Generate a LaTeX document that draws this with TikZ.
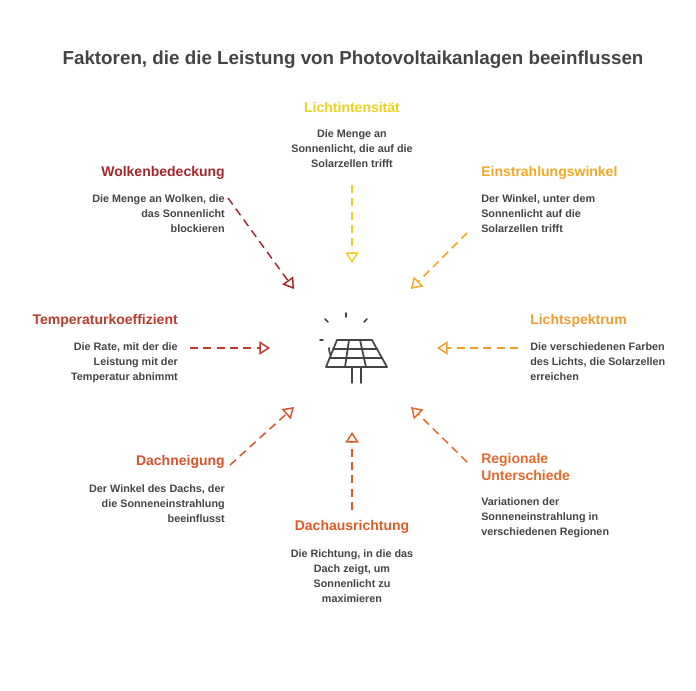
\documentclass[tikz,border=0pt]{standalone}
\usepackage{fontspec}
\setmainfont{Liberation Sans}
\usetikzlibrary{arrows.meta,positioning}
\definecolor{txtgray}{HTML}{444444}
\definecolor{cYellow}{HTML}{F2CF1D}
\definecolor{cAmber}{HTML}{F5A623}
\definecolor{cOrange}{HTML}{F39B2E}
\definecolor{cRegio}{HTML}{E8672A}
\definecolor{cRoof}{HTML}{E05A22}
\definecolor{cTilt}{HTML}{D9502A}
\definecolor{cTemp}{HTML}{C0392B}
\definecolor{cCloud}{HTML}{A3262A}
\tikzset{
  head/.style={font=\bfseries\fontsize{10.5}{12}\selectfont, inner sep=0pt},
  desc/.style={font=\bfseries\fontsize{8.1}{11.25}\selectfont, text=txtgray, inner sep=0pt},
  pointer/.style={dash pattern=on 6pt off 4pt, line width=1.1pt, -{Triangle[open,length=8pt,width=10pt]}},
  icon/.style={txtgray, line width=1.3pt, line cap=round, line join=round}
}
\begin{document}
\begin{tikzpicture}[x=0.75pt,y=-0.75pt]
\useasboundingbox (0,0) rectangle (696,690);

% Title
\node[font=\bfseries\fontsize{14.1}{16}\selectfont, text=txtgray] (title) at (353,60) {Faktoren, die die Leistung von Photovoltaikanlagen beeinflussen};

% Center icon
\draw[icon] (329,348) arc (180:330:12pt);
\draw[icon, fill=white] (337,340) -- (372,340) -- (387,367) -- (326,367) -- cycle;
\draw[icon] (333,349) -- (377,349) (330,358) -- (382,358);
\draw[icon] (349,340) -- (345,367) (360,340) -- (366,367);
\draw[icon] (352,367) -- (352,383) (361,367) -- (361,383);
\draw[icon] (346,313) -- (346,317) (325,319) -- (328,322) (367,319) -- (364,322) (320,340) -- (323,340);

% Arrows
\coordinate (a1) at (352,185); \coordinate (b1) at (352,263);
\coordinate (a2) at (228,198); \coordinate (b2) at (294,289);
\coordinate (a3) at (467,233); \coordinate (b3) at (411,289);
\coordinate (a4) at (190,348); \coordinate (b4) at (270,348);
\coordinate (a5) at (518,348); \coordinate (b5) at (437,348);
\coordinate (a6) at (230,465); \coordinate (b6) at (294,407);
\coordinate (a7) at (352,510); \coordinate (b7) at (352,432);
\coordinate (a8) at (467,462); \coordinate (b8) at (411,407);
\draw[pointer, cYellow] (a1) -- (b1);
\draw[pointer, cCloud] (a2) -- (b2);
\draw[pointer, cAmber] (a3) -- (b3);
\draw[pointer, cTemp] (a4) -- (b4);
\draw[pointer, cOrange] (a5) -- (b5);
\draw[pointer, cTilt] (a6) -- (b6);
\draw[pointer, cRoof] (a7) -- (b7);
\draw[pointer, cRegio] (a8) -- (b8);

% Labels
\node[head, text=cYellow] (licht) at (352,107) {Lichtintensität};
\node[desc, align=center, anchor=north] (lichtD) at (352,129) {Die Menge an\\Sonnenlicht, die auf die\\Solarzellen trifft};

\node[head, text=cCloud, anchor=east] (wolk) at (225,173) {Wolkenbedeckung};
\node[desc, align=right, anchor=north east] (wolkD) at (225,194) {Die Menge an Wolken, die\\das Sonnenlicht\\blockieren};

\node[head, text=cAmber, anchor=west] (winkel) at (481,173) {Einstrahlungswinkel};
\node[desc, align=left, anchor=north west] (winkelD) at (481,194) {Der Winkel, unter dem\\Sonnenlicht auf die\\Solarzellen trifft};

\node[head, text=cTemp, anchor=east] (temp) at (178,321) {Temperaturkoeffizient};
\node[desc, align=right, anchor=north east] (tempD) at (178,342) {Die Rate, mit der die\\Leistung mit der\\Temperatur abnimmt};

\node[head, text=cOrange, anchor=west] (spek) at (530,321) {Lichtspektrum};
\node[desc, align=left, anchor=north west] (spekD) at (530,342) {Die verschiedenen Farben\\des Lichts, die Solarzellen\\erreichen};

\node[head, text=cTilt, anchor=east] (neig) at (225,462) {Dachneigung};
\node[desc, align=right, anchor=north east] (neigD) at (225,484) {Der Winkel des Dachs, der\\die Sonneneinstrahlung\\beeinflusst};

\node[head, text=cRegio, anchor=west, align=left, font=\bfseries\fontsize{10.5}{12.75}\selectfont] (regio) at (481,467) {Regionale\\Unterschiede};
\node[desc, align=left, anchor=north west] (regioD) at (481,497) {Variationen der\\Sonneneinstrahlung in\\verschiedenen Regionen};

\node[head, text=cRoof] (ausr) at (352,527) {Dachausrichtung};
\node[desc, align=center, anchor=north] (ausrD) at (352,549) {Die Richtung, in die das\\Dach zeigt, um\\Sonnenlicht zu\\maximieren};
\end{tikzpicture}
\end{document}
